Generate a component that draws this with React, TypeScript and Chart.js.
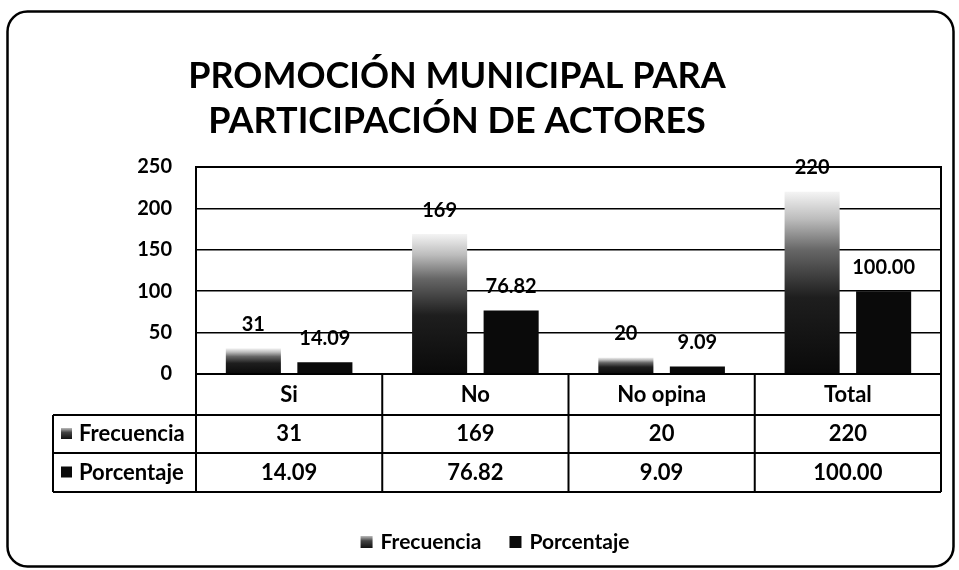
import { useEffect, useRef } from "react";
import { Chart, registerables } from "chart.js";

Chart.register(...registerables);

const TITLE_LINES = ["PROMOCIÓN MUNICIPAL PARA", "PARTICIPACIÓN DE ACTORES"];
const CATEGORIES = ["Si", "No", "No opina", "Total"];
const FRECUENCIA = [31, 169, 20, 220];
const PORCENTAJE = [14.09, 76.82, 9.09, 100.0];
const SERIES_LABELS = ["Frecuencia", "Porcentaje"];
const Y_MIN = 0;
const Y_MAX = 250;
const Y_STEP = 50;

const FONT = "Lato, 'Open Sans', sans-serif";

const fmt = (series: number, v: number) => (series === 1 ? v.toFixed(2) : String(v));

function freqFill(c: any) {
  const chart = c.chart;
  const area = chart.chartArea;
  const y = chart.scales && chart.scales.y;
  if (!area || !y || !c.parsed) return "#2a2a2a";
  const top = y.getPixelForValue(c.parsed.y);
  const base = y.getPixelForValue(0);
  if (base - top < 1) return "#2a2a2a";
  const g = chart.ctx.createLinearGradient(0, base, 0, top);
  g.addColorStop(0, "#0a0a0a");
  g.addColorStop(0.42, "#1e1e1e");
  g.addColorStop(0.68, "#666");
  g.addColorStop(0.85, "#bcbcbc");
  g.addColorStop(1, "#f4f4f4");
  return g;
}

function drawIcon(ctx: CanvasRenderingContext2D, series: number, x: number, y: number, s: number) {
  if (series === 0) {
    const g = ctx.createLinearGradient(0, y + s, 0, y);
    g.addColorStop(0, "#111");
    g.addColorStop(0.6, "#444");
    g.addColorStop(1, "#bbb");
    ctx.fillStyle = g;
  } else {
    ctx.fillStyle = "#0a0a0a";
  }
  ctx.fillRect(x, y, s, s);
}

const decoPlugin = {
  id: "deco",
  beforeDraw(chart: any) {
    const { ctx, width, height } = chart;
    ctx.save();
    ctx.fillStyle = "#fff";
    ctx.fillRect(0, 0, width, height);
    ctx.beginPath();
    ctx.roundRect(7.5, 11.5, 946, 555, 20);
    ctx.lineWidth = 2.5;
    ctx.strokeStyle = "#000";
    ctx.stroke();
    ctx.restore();
  },
  afterDraw(chart: any) {
    const { ctx, chartArea: a } = chart;
    ctx.save();
    ctx.fillStyle = "#000";
    ctx.strokeStyle = "#000";

    // title
    ctx.font = `bold 36px ${FONT}`;
    ctx.textAlign = "center";
    ctx.textBaseline = "middle";
    TITLE_LINES.forEach((t, i) => ctx.fillText(t, 457, 76 + i * 45));

    // plot frame
    ctx.lineWidth = 2;
    ctx.strokeRect(a.left, a.top, a.right - a.left, a.bottom - a.top);

    // data labels
    ctx.font = `bold 20px ${FONT}`;
    chart.data.datasets.forEach((ds: any, i: number) => {
      const meta = chart.getDatasetMeta(i);
      meta.data.forEach((bar: any, j: number) => {
        ctx.fillText(fmt(i, ds.data[j]), bar.x, bar.y - 24);
      });
    });

    // data table
    const catW = (a.right - a.left) / CATEGORIES.length;
    const rows = [a.bottom, a.bottom + 41, a.bottom + 79, a.bottom + 118];
    const labelLeft = 53;
    ctx.lineWidth = 2;
    ctx.beginPath();
    ctx.moveTo(a.left, rows[0]);
    ctx.lineTo(a.right, rows[0]);
    for (let r = 1; r < rows.length; r++) {
      ctx.moveTo(labelLeft, rows[r]);
      ctx.lineTo(a.right, rows[r]);
    }
    for (let c = 0; c <= CATEGORIES.length; c++) {
      const x = a.left + c * catW;
      ctx.moveTo(x, rows[0]);
      ctx.lineTo(x, rows[3]);
    }
    ctx.moveTo(labelLeft, rows[1]);
    ctx.lineTo(labelLeft, rows[3]);
    ctx.stroke();

    ctx.font = `bold 22px ${FONT}`;
    ctx.textAlign = "center";
    CATEGORIES.forEach((c, j) => {
      const x = chart.scales.x.getPixelForValue(j);
      ctx.fillText(c, x, (rows[0] + rows[1]) / 2);
    });
    const seriesData = [FRECUENCIA, PORCENTAJE];
    seriesData.forEach((vals, i) => {
      const cy = (rows[i + 1] + rows[i + 2]) / 2;
      vals.forEach((v, j) => {
        const x = chart.scales.x.getPixelForValue(j);
        ctx.fillStyle = "#000";
        ctx.textAlign = "center";
        ctx.fillText(fmt(i, v), x, cy);
      });
      drawIcon(ctx, i, labelLeft + 8, cy - 6, 11);
      ctx.fillStyle = "#000";
      ctx.textAlign = "left";
      ctx.fillText(SERIES_LABELS[i], labelLeft + 26, cy);
    });

    // legend
    ctx.font = `bold 21px ${FONT}`;
    ctx.textAlign = "left";
    const ly = 542;
    const w0 = ctx.measureText(SERIES_LABELS[0]).width;
    const w1 = ctx.measureText(SERIES_LABELS[1]).width;
    const gap = 28;
    const total = 20 + w0 + gap + 20 + w1;
    let lx = 495 - total / 2;
    drawIcon(ctx, 0, lx, ly - 6, 12);
    ctx.fillStyle = "#000";
    ctx.fillText(SERIES_LABELS[0], lx + 20, ly);
    lx += 20 + w0 + gap;
    drawIcon(ctx, 1, lx, ly - 6, 12);
    ctx.fillStyle = "#000";
    ctx.fillText(SERIES_LABELS[1], lx + 20, ly);

    ctx.restore();
  },
};

export default function App() {
  const ref = useRef<HTMLCanvasElement>(null);
  useEffect(() => {
    if (!ref.current) return;
    const chart = new Chart(ref.current, {
      type: "bar",
      data: {
        labels: CATEGORIES,
        datasets: [
          {
            label: SERIES_LABELS[0],
            data: FRECUENCIA,
            backgroundColor: freqFill as any,
            borderWidth: 0,
          },
          {
            label: SERIES_LABELS[1],
            data: PORCENTAJE,
            backgroundColor: "#0a0a0a",
            borderWidth: 0,
          },
        ],
      },
      options: {
        responsive: false,
        devicePixelRatio: 1,
        animation: false,
        datasets: { bar: { categoryPercentage: 0.768, barPercentage: 0.77 } },
        layout: { padding: { top: 167, right: 18, bottom: 0, left: 0 } },
        plugins: {
          legend: { display: false },
          title: { display: false },
          tooltip: { enabled: false },
        },
        scales: {
          x: {
            grid: { display: false },
            border: { display: false },
            ticks: { display: false },
            afterFit: (s: any) => {
              s.height = 196;
            },
          },
          y: {
            min: Y_MIN,
            max: Y_MAX,
            ticks: {
              stepSize: Y_STEP,
              color: "#000",
              padding: 24,
              font: { family: FONT, size: 20, weight: "bold" },
            },
            grid: { color: "#000", lineWidth: 1.5, drawTicks: false },
            border: { display: true, color: "#000", width: 2 },
            afterFit: (s: any) => {
              s.width = 196;
            },
          },
        },
      },
      plugins: [decoPlugin],
    });
    return () => chart.destroy();
  }, []);
  return (
    <div style={{ position: "absolute", left: 0, top: 0, width: 959, height: 570 }}>
      <canvas ref={ref} width={959} height={570} style={{ display: "block" }} />
    </div>
  );
}
